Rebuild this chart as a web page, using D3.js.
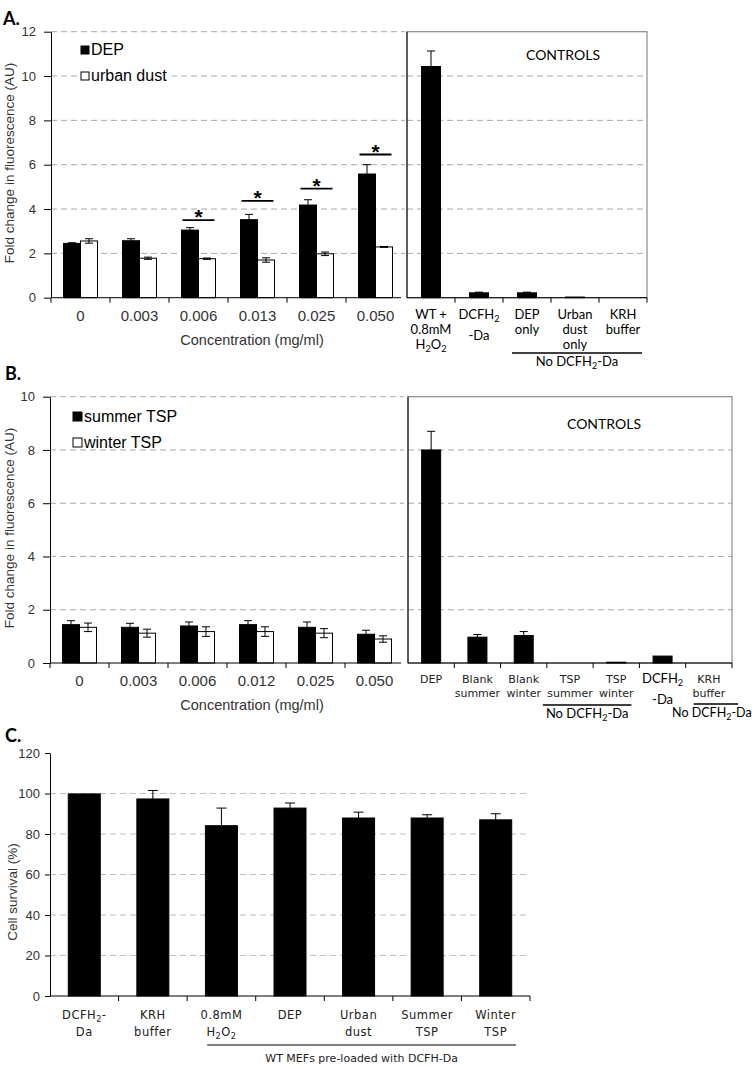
<!DOCTYPE html>
<html><head><meta charset="utf-8">
<script src="https://cdn.jsdelivr.net/npm/d3@7"></script>
<style>body{margin:0;background:#fff}svg{display:block}</style>
</head><body><svg id="c" width="752" height="1067"></svg>
<script>
// ---------------- data ----------------
const concA = ["0","0.003","0.006","0.013","0.025","0.050"];
const depMean = [2.45,2.57,3.05,3.52,4.18,5.58];
const depErr  = [0.03,0.09,0.11,0.24,0.24,0.42];
const dustMean = [2.56,1.78,1.76,1.70,1.98,2.29];
const dustErr  = [0.10,0.05,0.03,0.10,0.08,0.02];
const sigA = [null,null,3.5,4.37,4.92,6.46];
const seriesA = ["DEP","urban dust"];
const ctrlALabels = [["WT +","0.8mM","H_2O_2"],["DCFH_2","-Da"],["DEP","only"],["Urban","dust","only"],["KRH","buffer"]];
const ctrlAMean = [10.43,0.22,0.22,0.03,0];
const ctrlAErr  = [0.70,0.03,0.03,0,0];
const yTicksA = [0,2,4,6,8,10,12];

const concB = ["0","0.003","0.006","0.012","0.025","0.050"];
const summerMean = [1.44,1.34,1.39,1.44,1.34,1.08];
const summerErr  = [0.15,0.15,0.15,0.15,0.20,0.15];
const winterMean = [1.34,1.12,1.18,1.18,1.12,0.90];
const winterErr  = [0.16,0.15,0.18,0.18,0.17,0.12];
const seriesB = ["summer TSP","winter TSP"];
const ctrlBLabels = [["DEP"],["Blank","summer"],["Blank","winter"],["TSP","summer"],["TSP","winter"],["DCFH_2","-Da"],["KRH","buffer"]];
const ctrlBMean = [8.0,0.97,1.03,0,0.03,0.26,0];
const ctrlBErr  = [0.70,0.10,0.15,0,0,0,0];
const yTicksB = [0,2,4,6,8,10];

const survLabels = [["DCFH_2-","Da"],["KRH","buffer"],["0.8mM","H_2O_2"],["DEP"],["Urban","dust"],["Summer","TSP"],["Winter","TSP"]];
const survMean = [99.8,97.3,84.1,92.8,87.9,87.9,87.0];
const survErr  = [0,4.2,8.7,2.5,2.9,1.6,3.0];
const yTicksC = [0,20,40,60,80,100,120];

// ---------------- helpers ----------------
const svg = d3.select('#c');
svg.append('rect').attr('width',752).attr('height',1067).attr('fill','#fff');
const ARIAL = "'Liberation Sans', Arial, sans-serif";
const CALI = "Lato, 'Open Sans', sans-serif";
const VERD = "'DejaVu Sans', Verdana, sans-serif";

function rich(sel, str, subSize){
  const parts = str.split(/_(\d)/);
  let shifted = false;
  parts.forEach((p,i)=>{
    if(i%2===1){ sel.append('tspan').attr('dy',3).style('font-size',subSize+'px').text(p); shifted=true; }
    else if(p){ const t = sel.append('tspan').text(p); if(shifted){ t.attr('dy',-3); shifted=false; } }
  });
}
function multiLabel(g, cx, y0, lines, o){
  let y = y0;
  lines.forEach((ln,j)=>{
    if(j>0){ y += o.lh + (/_\d/.test(lines[j-1]) && o.subExtra ? o.subExtra : 0); }
    const t = g.append('text').attr('x',cx).attr('y',y).attr('text-anchor','middle')
      .style('font-family',o.font).style('font-size',o.fs+'px').attr('fill',o.color||'#000')
      .style('letter-spacing',(o.ls||0)+'px');
    rich(t, ln, o.fs*0.7);
  });
}
function yAxis(y, x, ticks, o){
  const ax = svg.append('g').attr('transform',`translate(${x},0)`)
    .call(d3.axisLeft(y).tickValues(ticks).tickSize(o.ts).tickPadding(o.pad).tickSizeOuter(0));
  ax.select('.domain').attr('stroke','#000');
  ax.selectAll('.tick line').attr('stroke','#000');
  ax.selectAll('.tick text').attr('fill','#333').style('font-family',ARIAL).style('font-size',o.fs+'px');
}
function grid(y, ticks, x0, x1, color){
  svg.append('g').selectAll('line').data(ticks.filter(t=>t>0)).join('line')
    .attr('x1',x0).attr('x2',x1).attr('y1',d=>y(d)).attr('y2',d=>y(d))
    .attr('stroke',color||'#a8a8a8').attr('stroke-width',1).attr('stroke-dasharray','6,4');
}
function errBar(g, cx, y, m, e, cap){
  if(!e) return;
  g.append('line').attr('x1',cx).attr('x2',cx).attr('y1',y(m-e)).attr('y2',y(m+e)).attr('stroke','#000');
  [m+e, m-e].forEach(v=>g.append('line').attr('x1',cx-cap/2).attr('x2',cx+cap/2).attr('y1',y(v)).attr('y2',y(v)).attr('stroke','#000'));
}
function rotTitle(x, y, txt, fs){
  svg.append('text').attr('transform',`translate(${x},${y}) rotate(-90)`).attr('text-anchor','middle')
    .style('font-family',ARIAL).style('font-size',fs+'px').attr('fill','#333').text(txt);
}
function panelLetter(x,y,t){
  svg.append('text').attr('x',x).attr('y',y).style('font-family',CALI).style('font-weight','bold')
    .style('font-size','18px').text(t);
}

function groupedPanel(o){
  const x = d3.scaleBand().domain(o.cats).range([o.x0,o.x1]);
  const y = o.y;
  grid(y, o.ticks, o.x0, o.x1);
  svg.append('rect').attr('x',o.leg.x-3).attr('y',o.leg.y-14).attr('width',o.leg.w).attr('height',o.leg.h).attr('fill','#fff');
  o.series.forEach((s,i)=>{
    const ly = o.leg.y + i*o.leg.dy;
    svg.append('rect').attr('x',o.leg.x).attr('y',ly-o.leg.sq).attr('width',o.leg.sq).attr('height',o.leg.sq)
      .attr('fill',i===0?'#000':'#fff').attr('stroke','#000');
    svg.append('text').attr('x',o.leg.x+o.leg.sq+2).attr('y',ly+1).style('font-family',ARIAL)
      .style('font-size','16px').attr('fill','#000').text(s);
  });
  const g = svg.append('g');
  const bw = o.bw;
  o.cats.forEach((c,i)=>{
    const cx = x(c)+x.bandwidth()/2;
    g.append('rect').attr('x',cx-bw).attr('y',y(o.m0[i])).attr('width',bw).attr('height',y(0)-y(o.m0[i]))
      .attr('fill','#000').attr('stroke','#000');
    errBar(g, cx-bw/2, y, o.m0[i], o.e0[i], 8);
    g.append('rect').attr('x',cx).attr('y',y(o.m1[i])).attr('width',bw).attr('height',y(0)-y(o.m1[i]))
      .attr('fill','#fff').attr('stroke','#000');
    errBar(g, cx+bw/2, y, o.m1[i], o.e1[i], 8);
    if(o.sig && o.sig[i]!=null){
      g.append('line').attr('x1',cx-16).attr('x2',cx+16).attr('y1',y(o.sig[i])).attr('y2',y(o.sig[i]))
        .attr('stroke','#000').attr('stroke-width',1.8);
      g.append('text').attr('x',cx).attr('y',y(o.sig[i])+4).attr('text-anchor','middle')
        .style('font-family',ARIAL).style('font-weight','bold').style('font-size','21px').text('*');
    }
    svg.append('text').attr('x',cx).attr('y',o.labY).attr('text-anchor','middle').style('font-family',ARIAL)
      .style('font-size','15px').attr('fill','#333').text(c);
    svg.append('line').attr('x1',x(c)).attr('x2',x(c)).attr('y1',y(0)).attr('y2',y(0)+5).attr('stroke','#000');
  });
  svg.append('line').attr('x1',o.x0).attr('x2',o.axEnd).attr('y1',y(0)).attr('y2',y(0)).attr('stroke','#000');
  yAxis(y, o.x0, o.ticks, {ts:7,pad:8,fs:13});
  svg.append('text').attr('x',o.titleX).attr('y',o.titleY).attr('text-anchor','middle').style('font-family',ARIAL)
    .style('font-size','14.5px').attr('fill','#333').text('Concentration (mg/ml)');
}

function controlsPanel(o){
  const x = d3.scaleBand().domain(d3.range(o.mean.length)).range([o.x0,o.x1]);
  const y = o.y;
  grid(y, o.ticks.filter(t=>t<o.top), o.x0, o.x1);
  svg.append('rect').attr('x',o.x0).attr('y',y(o.top)).attr('width',o.x1-o.x0).attr('height',y(0)-y(o.top))
    .attr('fill','none').attr('stroke','#8a8a8a').attr('stroke-width',1.2);
  const g = svg.append('g');
  o.mean.forEach((m,i)=>{
    const cx = x(i)+x.bandwidth()/2;
    if(m>0){
      g.append('rect').attr('x',cx-o.bw/2).attr('y',y(m)).attr('width',o.bw).attr('height',y(0)-y(m)).attr('fill','#000').attr('stroke','#000');
    }
    errBar(g, cx, y, m, o.err[i], 8);
    svg.append('line').attr('x1',x(i)+x.bandwidth()).attr('x2',x(i)+x.bandwidth()).attr('y1',y(0)).attr('y2',y(0)+5).attr('stroke','#000');
    const L = o.labels[i];
    const useCali = o.caliIdx ? o.caliIdx.includes(i) : true;
    multiLabel(svg, cx, o.labY, L, useCali ? {font:CALI,fs:13,lh:15,subExtra:6} : {font:VERD,fs:11,lh:14,color:'#222'});
  });
  svg.append('line').attr('x1',o.x0).attr('x2',o.x1).attr('y1',y(0)).attr('y2',y(0)).attr('stroke','#000');
  svg.append('line').attr('x1',o.x0).attr('x2',o.x0).attr('y1',y(0)).attr('y2',y(o.top)).attr('stroke','#000');
  svg.append('text').attr('x',o.ctrlX).attr('y',o.ctrlY).attr('text-anchor','middle').style('font-family',CALI)
    .style('font-size','14px').text('CONTROLS');
  o.brackets.forEach(b=>{
    svg.append('line').attr('x1',x(b.from)+b.in0).attr('x2',x(b.to)+x.bandwidth()-b.in1).attr('y1',b.y).attr('y2',b.y)
      .attr('stroke','#000').attr('stroke-width',1.5);
    const t = svg.append('text').attr('x',(x(b.from)+x(b.to)+x.bandwidth()+b.in0-b.in1)/2+b.dx).attr('y',b.y+13)
      .attr('text-anchor','middle').style('font-family',CALI).style('font-size',(b.fs||13)+'px');
    rich(t, 'No DCFH_2-Da', 9);
  });
}

// ---------------- Panel A ----------------
panelLetter(3,25,'A.');
const yA = d3.scaleLinear().domain([0,12]).range([297.7,31.7]);
groupedPanel({cats:concA, x0:51, x1:405, axEnd:401, y:yA, ticks:yTicksA, m0:depMean, e0:depErr, m1:dustMean, e1:dustErr,
  sig:sigA, bw:17, series:seriesA, leg:{x:81,y:54,dy:26,sq:8,w:94,h:40}, labY:321, titleX:252, titleY:345});
rotTitle(14,163,'Fold change in fluorescence (AU)',13.5);
controlsPanel({x0:407, x1:647, y:yA, top:12, ticks:yTicksA, mean:ctrlAMean, err:ctrlAErr, bw:19, labels:ctrlALabels,
  labY:319, ctrlX:563, ctrlY:60, brackets:[{from:2,to:4,in0:9,in1:5,y:353,dx:0}]});

// ---------------- Panel B ----------------
panelLetter(5,380,'B.');
const yB = d3.scaleLinear().domain([0,10]).range([663,396.7]);
groupedPanel({cats:concB, x0:50, x1:404, axEnd:401, y:yB, ticks:yTicksB, m0:summerMean, e0:summerErr, m1:winterMean, e1:winterErr,
  sig:null, bw:17, series:seriesB, leg:{x:73,y:421,dy:26,sq:9,w:118,h:34}, labY:686, titleX:252, titleY:710});
rotTitle(14,528,'Fold change in fluorescence (AU)',13.5);
controlsPanel({x0:408, x1:732, y:yB, top:10, ticks:yTicksB, mean:ctrlBMean, err:ctrlBErr, bw:19, labels:ctrlBLabels,
  caliIdx:[5], labY:683, ctrlX:604, ctrlY:429,
  brackets:[{from:3,to:4,in0:-4,in1:8,y:705,dx:0},{from:6,to:6,in0:8,in1:-6,y:704,dx:-4,fs:12.5}]});

// ---------------- Panel C ----------------
panelLetter(5,742,'C.');
const yC = d3.scaleLinear().domain([0,120]).range([996,753]);
const xC = d3.scaleBand().domain(d3.range(survMean.length)).range([50,530]);
grid(yC, yTicksC.filter(t=>t<120), 50, 530, '#bdbdbd');
const gC = svg.append('g');
survMean.forEach((m,i)=>{
  const cx = xC(i)+xC.bandwidth()/2;
  gC.append('rect').attr('x',cx-16).attr('y',yC(m)).attr('width',32).attr('height',yC(0)-yC(m)).attr('fill','#000').attr('stroke','#000');
  errBar(gC, cx, yC, m, survErr[i], 10);
  svg.append('line').attr('x1',xC(i)+xC.bandwidth()).attr('x2',xC(i)+xC.bandwidth()).attr('y1',yC(0)).attr('y2',yC(0)+5).attr('stroke','#000');
  multiLabel(svg, cx, 1019, survLabels[i], {font:VERD,fs:11.5,lh:17,color:'#222',ls:0.5});
});
svg.append('line').attr('x1',50).attr('x2',530).attr('y1',yC(0)).attr('y2',yC(0)).attr('stroke','#000');
yAxis(yC, 50, yTicksC, {ts:5,pad:5,fs:13});
rotTitle(17,892,'Cell survival (%)',13.5);
svg.append('line').attr('x1',xC(2)+20).attr('x2',xC(6)+xC.bandwidth()-14).attr('y1',1045).attr('y2',1045).attr('stroke','#000').attr('stroke-width',1.2);
svg.append('text').attr('x',(xC(2)+20+xC(6)+xC.bandwidth()-14)/2).attr('y',1062).attr('text-anchor','middle')
  .style('font-family',VERD).style('font-size','11px').attr('fill','#222').text('WT MEFs  pre-loaded with DCFH-Da');
</script></body></html>
